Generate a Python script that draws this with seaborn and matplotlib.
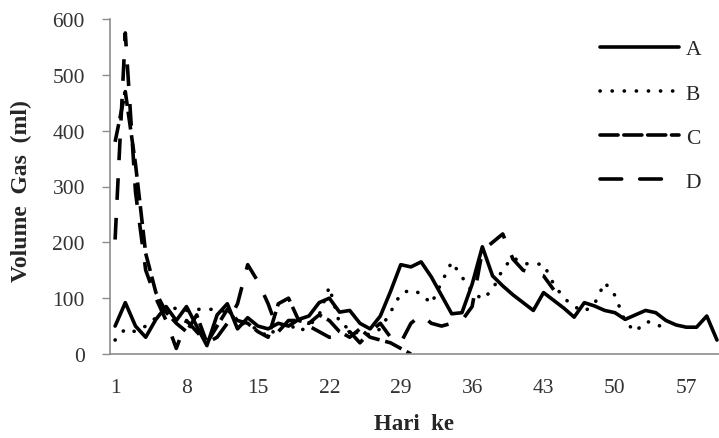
import numpy as np
import pandas as pd
import matplotlib
matplotlib.use("Agg")
import matplotlib.pyplot as plt
import seaborn as sns

# ---- data ----
series_names = ["A", "B", "C", "D"]
A = [50, 92, 50, 30, 62, 85, 60, 85, 50, 15, 70, 90, 45, 65, 50, 45, 55, 50, 62, 68,
     92, 100, 75, 78, 55, 45, 68, 112, 160, 156, 165, 138, 105, 72, 74, 125, 192, 140, 122, 106,
     92, 78, 110, 96, 82, 66, 92, 86, 78, 74, 62, 70, 78, 74, 60, 52, 48, 48, 68, 25]
B = [25, 45, 40, 50, 65, 80, 82, 78, 80, 80, 80, 75, 60, 50, 45, 30, 50, 55, 40, 50,
     70, 120, 55, 45, 35, 35, 45, 75, 108, 115, 108, 90, 128, 165, 138, 112, 98, 115, 152, 173,
     162, 161, 161, 125, 100, 85, 76, 90, 128, 105, 58, 40, 58, 56, 41]
C = [380, 470, 340, 180, 110, 75, 55, 40, 70, 20, 50, 80, 60, 55, 40, 30, 90, 100, 60, 55,
     70, 60, 40, 30, 45, 30, 25, 20, 10, 0]
D = [205, 575, 290, 150, 100, 60, 10, 60, 40, 20, 30, 55, 90, 160, 130, 90, 40, 60, 60, 50,
     40, 30, 30, 40, 20, 40, 55, 30, 20, 55, 70, 55, 50, 55, 60, 85, 185, 200, 215, 170,
     150, 145, 140, 115]
xtick_vals = [1, 8, 15, 22, 29, 36, 43, 50, 57]
ytick_vals = [0, 100, 200, 300, 400, 500, 600]
xlabel = "Hari  ke"
ylabel = "Volume  Gas  (ml)"

frames = []
for name, vals in zip(series_names, [A, B, C, D]):
    frames.append(pd.DataFrame({"Hari": np.arange(1, len(vals) + 1), "Volume": vals, "Seri": name}))
df = pd.concat(frames, ignore_index=True)

sns.set_theme(style="white")
plt.rcParams["font.family"] = ["Liberation Serif", "DejaVu Serif"]

W, H = 719, 439
fig = plt.figure(figsize=(W / 100, H / 100), dpi=100)
left, right, top, bottom = 110, 719, 20, 355
ax = fig.add_axes([left / W, 1 - bottom / H, (right - left) / W, (bottom - top) / H])

dash_map = {"A": "", "B": (0.05, 3.3), "C": (5.0, 1.6), "D": (6.0, 5.0)}
sns.lineplot(data=df, x="Hari", y="Volume", style="Seri", dashes=dash_map,
             color="black", linewidth=2.6, ax=ax, legend=True, errorbar=None,
             dash_capstyle="round", solid_capstyle="round")
for ln, name in zip(ax.lines[:4], series_names):
    if name in ("C", "D"):
        ln.set_dash_capstyle("butt")

ax.set_xlim(0.5, 60.2)
ax.set_ylim(0, 600)
ax.set_xticks(xtick_vals)
ax.set_xticklabels([str(v) for v in xtick_vals])
ax.set_yticks(ytick_vals)
ax.set_yticklabels([str(v) for v in ytick_vals])

for s in ["top", "right"]:
    ax.spines[s].set_visible(False)
for s in ["left", "bottom"]:
    ax.spines[s].set_color("#8c8c8c")
    ax.spines[s].set_linewidth(1.2)

ax.tick_params(axis="y", which="both", left=True, length=6, width=1, color="#8c8c8c",
               direction="out", pad=12, labelsize=15.5, labelcolor="#333333")
ax.tick_params(axis="x", length=0, pad=17, labelsize=15.5, labelcolor="#333333")

ax.set_xlabel(xlabel, fontsize=16.5, fontweight="bold", labelpad=12)
ax.set_ylabel(ylabel, fontsize=17, fontweight="bold")
ax.yaxis.set_label_coords(-0.128, 0.49)

leg = ax.legend(loc="upper right", bbox_to_anchor=(0.985, 0.965), frameon=False,
                fontsize=15.5, handlelength=3.7, handletextpad=0.3, labelspacing=1.12,
                borderaxespad=0.0)
for h in leg.get_lines():
    h.set_color("black")
    h.set_linewidth(2.6)

fig.savefig("out.png", dpi=100)
